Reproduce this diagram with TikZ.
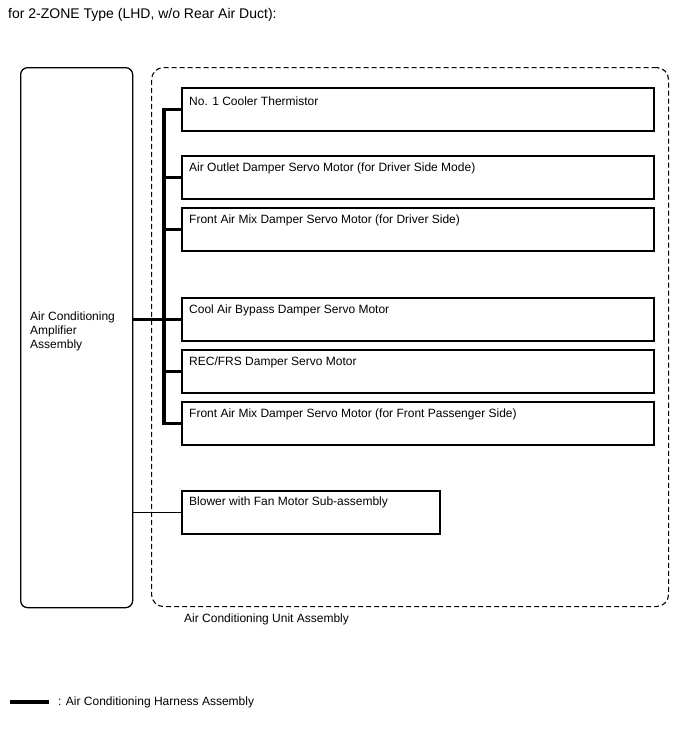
\documentclass[tikz,border=0pt]{standalone}
\usepackage{fontspec}
\setmainfont{Liberation Sans}
\begin{document}
\begin{tikzpicture}[x=1pt,y=-1pt,
  every node/.style={inner sep=0pt, font=\fontsize{12}{14}\selectfont},
  part/.style={draw, line width=2pt, minimum height=43pt, anchor=north west, inner sep=0pt},
  harness/.style={line width=3.5pt},
  thin/.style={line width=0.8pt},
  lbl/.style={anchor=west, font=\fontsize{12}{14}\selectfont}]
\useasboundingbox (0,0) rectangle (688,755);
\node[anchor=west, font=\fontsize{14}{16}\selectfont] (title) at (8,15) {for 2-ZONE Type (LHD, w/o Rear Air Duct):};
% amplifier
\node[draw, line width=1.3pt, rounded corners=7pt, anchor=north west, minimum width=112pt, minimum height=540pt] (amp) at (20,67) {};
\node[anchor=west, align=left, font=\fontsize{12}{14}\selectfont] (amptxt) at (30,331) {Air Conditioning\\Amplifier\\Assembly};
% unit
\node[draw, dashed, line width=1.1pt, dash pattern=on 5pt off 3pt, rounded corners=12pt, anchor=north west, minimum width=517pt, minimum height=539pt] (unit) at (151,67) {};
\node[anchor=west] (unittxt) at (184,619) {Air Conditioning Unit Assembly};
% parts
\node[part, minimum width=472pt] (b1) at (181,87) {};
\node[part, minimum width=472pt] (b2) at (181,155) {};
\node[part, minimum width=472pt] (b3) at (181,207) {};
\node[part, minimum width=472pt] (b4) at (181,297) {};
\node[part, minimum width=472pt] (b5) at (181,349) {};
\node[part, minimum width=472pt] (b6) at (181,401) {};
\node[part, minimum width=258pt] (b7) at (181,490) {};
\node[lbl] at (189,101) {No. 1 Cooler Thermistor};
\node[lbl] at (189,168) {Air Outlet Damper Servo Motor (for Driver Side Mode)};
\node[lbl] at (189,220) {Front Air Mix Damper Servo Motor (for Driver Side)};
\node[lbl] at (189,310) {Cool Air Bypass Damper Servo Motor};
\node[lbl] at (189,362) {REC/FRS Damper Servo Motor};
\node[lbl] at (189,414) {Front Air Mix Damper Servo Motor (for Front Passenger Side)};
\node[lbl] at (189,502) {Blower with Fan Motor Sub-assembly};
% harness bus
\coordinate (bx) at (164,0);
\draw[harness, line join=miter] (b1.west) -| (bx |- b6.west) -- (b6.west);
\draw[harness] (bx |- b2.west) -- (b2.west);
\draw[harness] (bx |- b3.west) -- (b3.west);
\draw[harness] (amp.east |- b4.west) -- (b4.west);
\draw[harness] (bx |- b5.west) -- (b5.west);
\draw[thin] (amp.east |- b7.west) -- (b7.west);
% legend
\coordinate (l1) at (10,702);
\coordinate (l2) at (49,702);
\draw[harness] (l1) -- (l2);
\node[anchor=west] (legend) at (58,702) {: Air Conditioning Harness Assembly};
\end{tikzpicture}
\end{document}
